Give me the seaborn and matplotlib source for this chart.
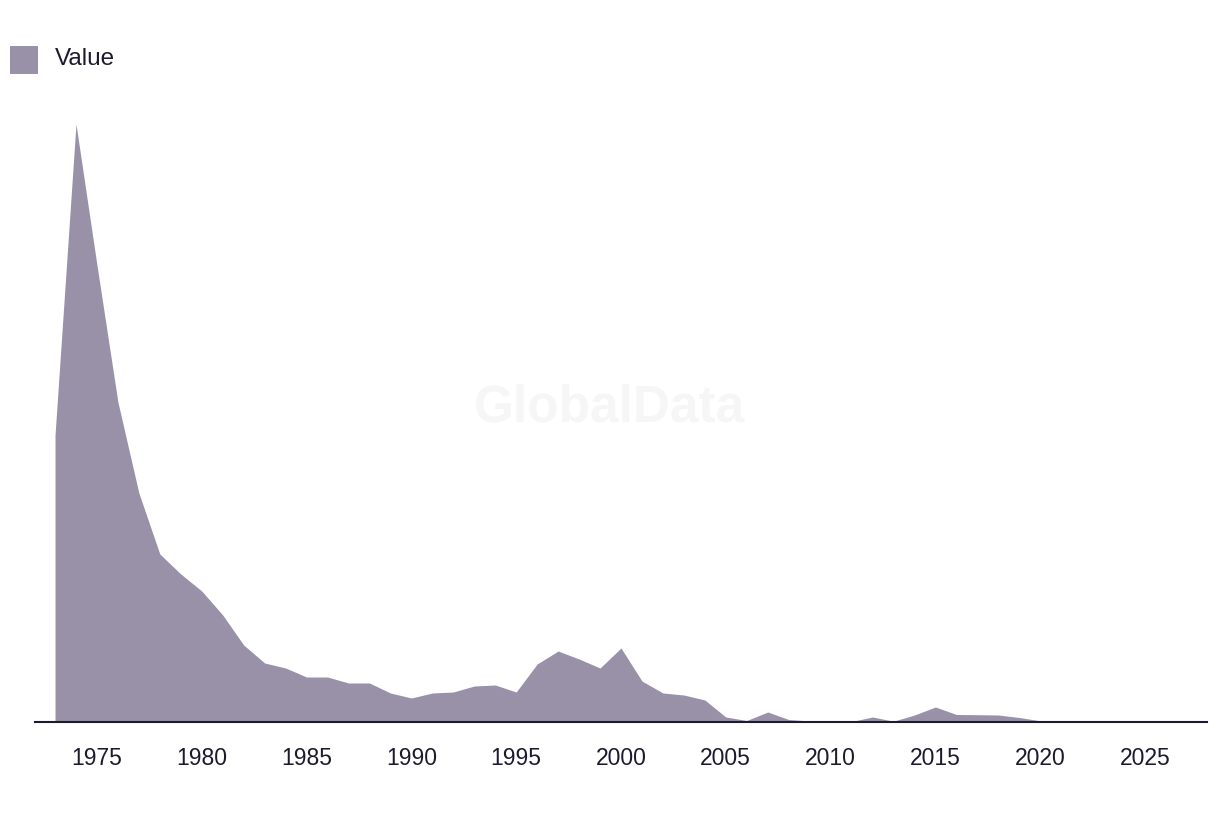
import matplotlib
matplotlib.use("Agg")
import matplotlib.pyplot as plt
import matplotlib.patches as mpatches
import seaborn as sns
import pandas as pd
import numpy as np

years = list(range(1973, 2028))
values = [287, 598, 457, 320, 229, 168, 148, 131, 107, 77,
          59, 54, 45, 45, 39, 39, 29, 24, 29, 30,
          36, 37, 30, 58, 71, 63, 54, 74, 41, 29,
          27, 22, 5, 1.5, 10, 2.5, 1, 1.5, 0.5, 5,
          0.8, 7, 15, 7.5, 7.3, 7, 4.5, 1.2, 1, 1,
          1, 1.5, 1, 1, 0.8]
series_name = "Value"
tick_years = [1975, 1980, 1985, 1990, 1995, 2000, 2005, 2010, 2015, 2020, 2025]

df = pd.DataFrame({"Year": years, series_name: values})

fill_color = "#9991A8"
text_color = "#1C1A2E"

sns.set_theme(style="white")
plt.rcParams["font.family"] = ["Liberation Sans", "DejaVu Sans"]

W, H = 1220, 814
fig = plt.figure(figsize=(W / 100, H / 100), dpi=100)
ax = fig.add_axes([35 / W, 92 / H, (1207 - 35) / W, (722 - 100) / H])

sns.lineplot(data=df, x="Year", y=series_name, ax=ax, color=fill_color, linewidth=0)
ax.fill_between(df["Year"], 0, df[series_name], color=fill_color, linewidth=0)

ax.set_xlim(1973 - 20 / 20.94, 2027 + 20 / 20.94)
ax.set_ylim(0, 622)
ax.set_xticks(tick_years)
ax.set_xticklabels([str(t) for t in tick_years])
ax.set_yticks([])
ax.set_xlabel("")
ax.set_ylabel("")
for s in ["top", "right", "left"]:
    ax.spines[s].set_visible(False)
ax.spines["bottom"].set_color(text_color)
ax.spines["bottom"].set_linewidth(1.5)
ax.tick_params(axis="x", length=0, pad=18, labelsize=16.5, colors=text_color)

fig.text(610 / W, 1 - 408 / H, "GlobalData", ha="center", va="center",
         fontsize=37, fontweight="bold", color="#F6F6F6", zorder=0)

# legend: swatch + label
fig.patches.append(mpatches.Rectangle((10 / W, 1 - 74 / H), 28 / W, 28 / H,
                                      transform=fig.transFigure, color=fill_color,
                                      linewidth=0))
fig.text(55 / W, 1 - 59 / H, series_name, ha="left", va="center",
         fontsize=17.5, color=text_color)

fig.savefig("out.png", dpi=100)
